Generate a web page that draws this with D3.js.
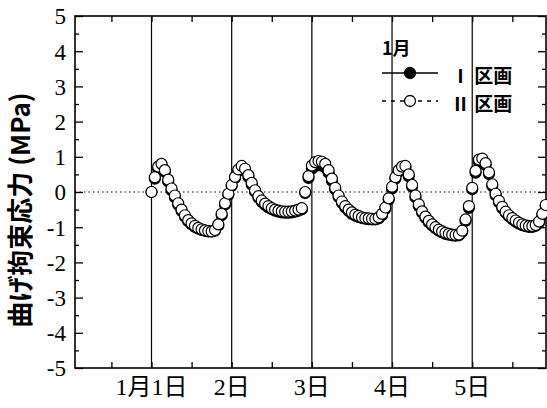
<!DOCTYPE html>
<html><head><meta charset="utf-8">
<script src="https://cdn.jsdelivr.net/npm/d3@7/dist/d3.min.js"></script>
<style>body{margin:0;background:#fff}svg{display:block}</style>
</head><body>
<svg id="c" width="547" height="408"></svg>
<script>
// hourly values, day by day (hour 0 = Jan 1, 0:00)
const seriesI_day = [
  [0.00, 0.38, 0.65, 0.76, 0.58, 0.30, 0.05, -0.15, -0.36, -0.54, -0.70, -0.83, -0.92, -0.99, -1.04, -1.08, -1.10, -1.12, -1.12, -1.10, -0.95, -0.66, -0.36, -0.08],
  [0.17, 0.40, 0.60, 0.70, 0.62, 0.43, 0.21, 0.01, -0.16, -0.28, -0.37, -0.44, -0.49, -0.53, -0.56, -0.58, -0.59, -0.59, -0.58, -0.56, -0.53, -0.49, -0.03, 0.40],
  [0.66, 0.74, 0.76, 0.75, 0.70, 0.55, 0.32, 0.07, -0.14, -0.31, -0.44, -0.54, -0.62, -0.67, -0.71, -0.74, -0.76, -0.77, -0.78, -0.78, -0.75, -0.66, -0.48, -0.22],
  [0.10, 0.38, 0.58, 0.68, 0.70, 0.45, 0.15, -0.15, -0.40, -0.59, -0.74, -0.86, -0.95, -1.03, -1.10, -1.15, -1.19, -1.21, -1.23, -1.24, -1.23, -1.13, -0.82, -0.45],
  [0.08, 0.55, 0.86, 0.90, 0.77, 0.51, 0.17, -0.09, -0.29, -0.46, -0.59, -0.69, -0.77, -0.84, -0.90, -0.94, -0.97, -0.99, -0.99, -0.96, -0.87, -0.65, -0.40]
];
const seriesII_day = [
  [0.00, 0.42, 0.72, 0.80, 0.62, 0.35, 0.10, -0.10, -0.32, -0.50, -0.66, -0.80, -0.89, -0.96, -1.02, -1.06, -1.09, -1.11, -1.12, -1.08, -0.92, -0.62, -0.32, -0.05],
  [0.20, 0.43, 0.64, 0.74, 0.66, 0.48, 0.26, 0.05, -0.12, -0.24, -0.33, -0.40, -0.46, -0.50, -0.53, -0.55, -0.56, -0.56, -0.55, -0.53, -0.50, -0.46, 0.00, 0.45],
  [0.75, 0.85, 0.88, 0.86, 0.80, 0.62, 0.38, 0.12, -0.10, -0.27, -0.40, -0.50, -0.58, -0.64, -0.68, -0.72, -0.74, -0.75, -0.76, -0.76, -0.72, -0.62, -0.44, -0.18],
  [0.15, 0.42, 0.62, 0.72, 0.74, 0.50, 0.20, -0.10, -0.35, -0.55, -0.70, -0.82, -0.92, -1.00, -1.07, -1.12, -1.16, -1.19, -1.21, -1.22, -1.21, -1.10, -0.78, -0.40],
  [0.12, 0.60, 0.92, 0.95, 0.82, 0.56, 0.22, -0.05, -0.25, -0.42, -0.56, -0.66, -0.74, -0.81, -0.87, -0.92, -0.95, -0.97, -0.97, -0.94, -0.84, -0.62, -0.37]
];
const dayTicks = [0, 1, 2, 3, 4];
const dayLabels = ["1月1日", "2日", "3日", "4日", "5日"];
const yTicks = [-5, -4, -3, -2, -1, 0, 1, 2, 3, 4, 5];
const yLabel = "曲げ拘束応力 (MPa)";
const legendTitle = "1月";
const seriesNames = ["Ⅰ 区画", "Ⅱ 区画"];

const L = 75, R = 546, T = 16, B = 368;
const svg = d3.select("#c");
const x = d3.scaleLinear().domain([-0.954, 4.92]).range([L, R]);
const y = d3.scaleLinear().domain([-5, 5]).range([B, T]);

function flatten(days) {
  const out = [];
  days.forEach((arr, d) => arr.forEach((v, h) => out.push({t: d + h / 24, v})));
  return out;
}
const dataI = flatten(seriesI_day);
const dataII = flatten(seriesII_day);

// zero dotted line
svg.append("line").attr("x1", L).attr("x2", R).attr("y1", y(0)).attr("y2", y(0))
  .attr("stroke", "#000").attr("stroke-width", 1).attr("stroke-dasharray", "1.5,3");

// day lines
svg.selectAll("line.day").data(dayTicks).enter().append("line")
  .attr("x1", d => x(d)).attr("x2", d => x(d)).attr("y1", T).attr("y2", B)
  .attr("stroke", "#000").attr("stroke-width", 1.2);

// axes with inward ticks
const halfDays = d3.range(-0.5, 4.9, 0.5);
const yMinor = d3.range(-4.5, 5, 1);
const gB = svg.append("g").attr("transform", `translate(0,${B})`)
  .call(d3.axisBottom(x).tickValues(halfDays).tickSize(-6).tickFormat(""));
const gT = svg.append("g").attr("transform", `translate(0,${T})`)
  .call(d3.axisTop(x).tickValues(halfDays).tickSize(-6).tickFormat(""));
const gL = svg.append("g").attr("transform", `translate(${L},0)`)
  .call(d3.axisLeft(y).tickValues(yTicks).tickSize(-8).tickPadding(18).tickFormat(d3.format("d")));
const gL2 = svg.append("g").attr("transform", `translate(${L},0)`)
  .call(d3.axisLeft(y).tickValues(yMinor).tickSize(-4).tickFormat(""));
const gR = svg.append("g").attr("transform", `translate(${R},0)`)
  .call(d3.axisRight(y).tickValues(yTicks).tickSize(-8).tickFormat(""));
const gR2 = svg.append("g").attr("transform", `translate(${R},0)`)
  .call(d3.axisRight(y).tickValues(yMinor).tickSize(-4).tickFormat(""));
[gB, gT, gL, gL2, gR, gR2].forEach(g => {
  g.select(".domain").remove();
  g.selectAll(".tick line").attr("stroke", "#000").attr("stroke-width", 1.3);
});
gL.selectAll(".tick text")
  .attr("font-family", "'Liberation Serif', 'Times New Roman', serif")
  .attr("font-size", 23).attr("fill", "#000").attr("x", -9).attr("dy", "0.34em")
  .text(d => d < 0 ? "-" + Math.abs(d) : d);

// frame
svg.append("rect").attr("x", L).attr("y", T).attr("width", R - L).attr("height", B - T)
  .attr("fill", "none").attr("stroke", "#000").attr("stroke-width", 1.6);

// x labels
svg.selectAll("text.xl").data(dayTicks).enter().append("text")
  .attr("x", d => x(d)).attr("y", 395).attr("text-anchor", "middle")
  .attr("font-family", "'Liberation Serif', 'Noto Sans CJK JP', serif")
  .attr("font-size", 24).attr("fill", "#000")
  .text((d, i) => dayLabels[i]);

// y label
svg.append("text").attr("transform", `translate(30,210) rotate(-90)`)
  .attr("text-anchor", "middle")
  .attr("font-family", "'Noto Sans CJK JP', sans-serif").attr("font-weight", "bold")
  .attr("font-size", 26).attr("fill", "#000").text(yLabel);

// points
svg.append("g").selectAll("circle").data(dataI).enter().append("circle")
  .attr("cx", d => x(d.t)).attr("cy", d => y(d.v)).attr("r", 5.5)
  .attr("fill", "#000").attr("stroke", "#000").attr("stroke-width", 1.2);
svg.append("g").selectAll("circle").data(dataII).enter().append("circle")
  .attr("cx", d => x(d.t)).attr("cy", d => y(d.v)).attr("r", 5.5)
  .attr("fill", "#fff").attr("stroke", "#000").attr("stroke-width", 1.2);

// legend
const lg = svg.append("g");
lg.append("text").attr("x", 382).attr("y", 47).attr("dominant-baseline", "central")
  .attr("font-family", "'Noto Sans CJK JP', sans-serif").attr("font-weight", "bold")
  .attr("font-size", 18).attr("fill", "#000").text(legendTitle);
const rows = [{yy: 73, fill: "#000", dash: null}, {yy: 101, fill: "#fff", dash: "4,5"}];
rows.forEach((r, i) => {
  lg.append("line").attr("x1", 382).attr("x2", 438).attr("y1", r.yy).attr("y2", r.yy)
    .attr("stroke", "#000").attr("stroke-width", 1.3).attr("stroke-dasharray", r.dash);
  lg.append("circle").attr("cx", 410).attr("cy", r.yy).attr("r", 5.5)
    .attr("fill", r.fill).attr("stroke", "#000").attr("stroke-width", 1.3);
  lg.append("text").attr("x", 451).attr("y", r.yy + 1).attr("dominant-baseline", "central")
    .attr("font-family", "'Noto Sans CJK JP', sans-serif").attr("font-weight", "bold")
    .attr("font-size", 19).attr("fill", "#000").text(seriesNames[i]);
});
</script>
</body></html>
